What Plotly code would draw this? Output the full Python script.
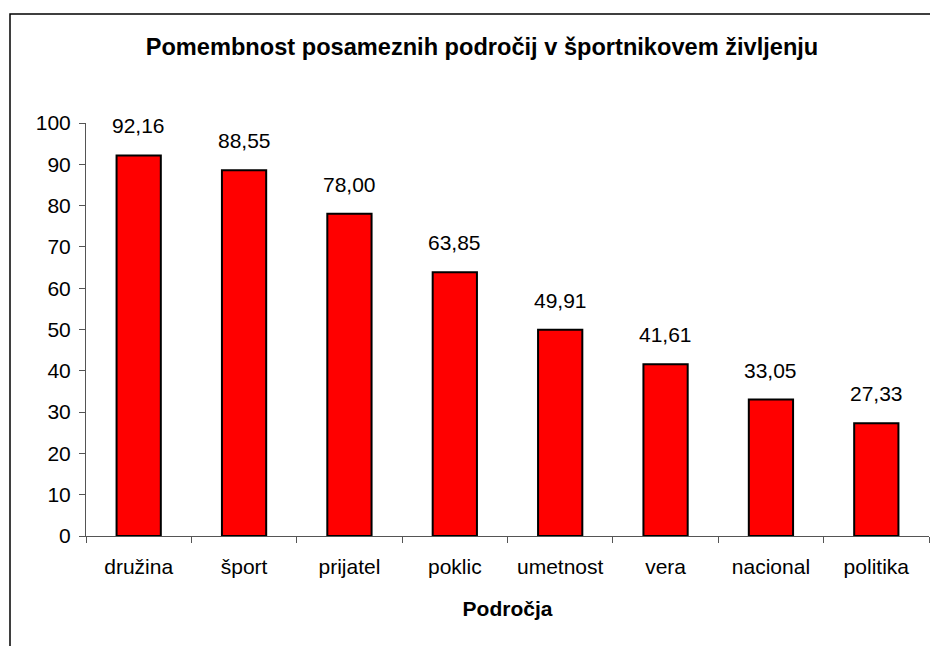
import plotly.graph_objects as go

categories = ["družina", "šport", "prijatel", "poklic", "umetnost", "vera", "nacional", "politika"]
values = [92.16, 88.55, 78.00, 63.85, 49.91, 41.61, 33.05, 27.33]
value_labels = ["92,16", "88,55", "78,00", "63,85", "49,91", "41,61", "33,05", "27,33"]
y_ticks = list(range(0, 101, 10))

W, H = 938, 646
OFF = 8  # page body margin
L, T = 86 - OFF, 123 - OFF
pw, ph = 843, 413
R, B = W - L - pw, H - T - ph

font = "Liberation Sans, Arial, sans-serif"

fig = go.Figure()
fig.add_trace(go.Bar(
    x=categories, y=values,
    marker=dict(color="#FF0000", line=dict(color="black", width=2)),
    width=0.42,
    hoverinfo="x+y",
))

for c, v, t in zip(categories, values, value_labels):
    fig.add_annotation(x=c, y=v, xref="x", yref="y", text=t, showarrow=False,
                       yanchor="bottom", yshift=16,
                       font=dict(family=font, size=21, color="black"))

# outer chart border (extends beyond window right/bottom)
bx0, by0 = 10 - OFF, 14 - OFF
fig.add_shape(type="rect", xref="paper", yref="paper",
              x0=(bx0 - L) / pw, x1=(W + 20 - L) / pw,
              y0=-(H + 20 - T - ph) / ph, y1=(T + ph - by0) / ph,
              line=dict(color="black", width=1.5), fillcolor="rgba(0,0,0,0)", layer="below")

fig.update_layout(
    width=W, height=H,
    margin=dict(l=L, r=R, t=T, b=B, pad=0),
    paper_bgcolor="white", plot_bgcolor="white",
    showlegend=False,
    title=dict(text="<b>Pomembnost posameznih področij v športnikovem življenju</b>",
               x=(482 - OFF) / W, xanchor="center", y=1 - (47 - OFF) / H, yanchor="middle",
               font=dict(family=font, size=23.6, color="black")),
    xaxis=dict(
        showline=True, linecolor="#555555", linewidth=1,
        ticks="outside", tickson="boundaries", ticklen=6, tickcolor="#555555",
        ticklabelstandoff=12,
        tickfont=dict(family=font, size=21, color="black"),
        title=dict(text="<b>Področja</b>", font=dict(family=font, size=21, color="black"), standoff=24),
        showgrid=False,
    ),
    yaxis=dict(
        range=[0, 100], tickvals=y_ticks,
        showline=True, linecolor="#555555", linewidth=1,
        ticks="outside", ticklen=6, tickcolor="#555555",
        ticklabelstandoff=4,
        tickfont=dict(family=font, size=21, color="black"),
        showgrid=False, zeroline=False,
    ),
)

fig.write_html("out.html")
